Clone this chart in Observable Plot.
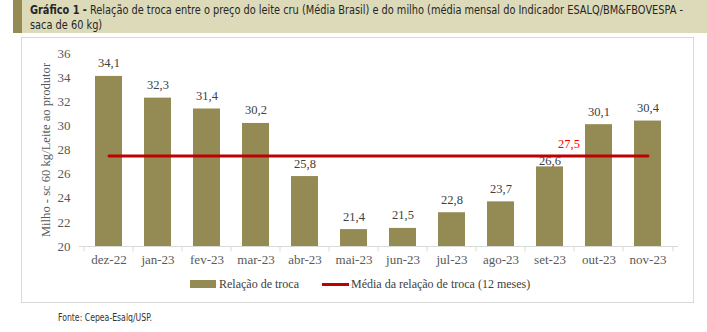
<!DOCTYPE html>
<html><head><meta charset="utf-8">
<script src="https://cdn.jsdelivr.net/npm/d3@7"></script>
<script src="https://cdn.jsdelivr.net/npm/@observablehq/plot@0.6"></script>
<style>
body{margin:0;background:#fff;width:707px;height:332px;position:relative;overflow:hidden;}
#title{position:absolute;left:13px;top:0;width:694px;height:33px;background:#dcdab9;}
#title .bar{position:absolute;left:0;top:0;width:9px;height:33px;background:#948a54;}
.ln{position:absolute;left:17px;white-space:nowrap;font-family:"DejaVu Sans Condensed","DejaVu Sans",sans-serif;font-stretch:condensed;font-size:12.5px;line-height:15px;color:#262626;transform-origin:0 50%;}
#l1{top:2px;}
#l2{top:17px;}
#box{position:absolute;left:21px;top:37px;width:671px;height:264px;border:1px solid #d9d9d9;}
#chart{position:absolute;left:0;top:37px;}
#legend{position:absolute;top:277px;left:0;width:707px;height:16px;font-family:"Liberation Serif",serif;font-size:12px;color:#404040;}
#legend .sw1{position:absolute;left:190px;top:3px;width:26px;height:8px;background:#948a54;}
#legend .t1{position:absolute;left:219px;top:0;}
#legend .sw2{position:absolute;left:322px;top:6px;width:27px;height:3px;background:#c00000;}
#legend .t2{position:absolute;left:351px;top:0;}
#src{position:absolute;left:58px;top:311px;white-space:nowrap;font-family:"DejaVu Sans Condensed","DejaVu Sans",sans-serif;font-stretch:condensed;font-size:10.5px;color:#333;transform-origin:0 50%;}
</style>
</head><body>
<div id="title"><div class="bar"></div>
<div class="ln" id="l1"><b>Gráfico 1 -</b> Relação de troca entre o preço do leite cru (Média Brasil) e do milho (média mensal do Indicador ESALQ/BM&amp;FBOVESPA -</div>
<div class="ln" id="l2">saca de 60 kg)</div></div>
<div id="box"></div>
<div id="chart"></div>
<div id="legend"><div class="sw1"></div><span class="t1">Relação de troca</span><div class="sw2"></div><span class="t2">Média da relação de troca (12 meses)</span></div>
<div id="src">Fonte: Cepea-Esalq/USP.</div>
<script>
const months = ["dez-22","jan-23","fev-23","mar-23","abr-23","mai-23","jun-23","jul-23","ago-23","set-23","out-23","nov-23"];
const ratio = [34.1,32.3,31.4,30.2,25.8,21.4,21.5,22.8,23.7,26.6,30.1,30.4];
const average = 27.5;
const yTicks = [20,22,24,26,28,30,32,34,36];

// fit condensed texts to the reference widths
const l1 = document.getElementById("l1");
const sx = 653 / l1.getBoundingClientRect().width;
l1.style.transform = `scaleX(${sx})`;
document.getElementById("l2").style.transform = `scaleX(${sx})`;
const src = document.getElementById("src");
src.style.transform = `scaleX(${94 / src.getBoundingClientRect().width})`;

const data = months.map((m,i)=>({month:m, value:ratio[i]}));
const fmt = v => v.toFixed(1).replace(".", ",");
const avgLine = [{month:months[0], value:average},{month:months[months.length-1], value:average}];
const W = 707, H = 240, ML = 79, MR = 29;
const step = (W - ML - MR) / months.length;

const chart = Plot.plot({
  width: W, height: H,
  marginLeft: ML, marginRight: MR, marginTop: 16, marginBottom: 31,
  style: {fontFamily: "Liberation Serif, serif", background: "transparent"},
  x: {domain: months, paddingInner: 0.44, paddingOuter: 0.22, label: null},
  y: {domain: [20, 36], ticks: yTicks, label: null},
  marks: [
    Plot.barY(data, {x: "month", y1: 20, y2: "value", fill: "#948a54"}),
    Plot.ruleY([20], {stroke: "#d9d9d9", strokeWidth: 1}),
    Plot.ruleX(months, {x: d => d, dx: -step/2, y1: 20, y2: 19.55, stroke: "#d9d9d9"}),
    Plot.ruleX([months[months.length-1]], {x: d => d, dx: step/2, y1: 20, y2: 19.55, stroke: "#d9d9d9"}),
    Plot.line(avgLine, {x: "month", y: "value", stroke: "#c00000", strokeWidth: 3}),
    Plot.text(data.filter(d => d.month !== "set-23"), {x: "month", y: "value", text: d => fmt(d.value), dy: -13, fontSize: 12.5, fill: "#404040"}),
    Plot.text(data.filter(d => d.month === "set-23"), {x: "month", y: "value", text: d => fmt(d.value), dy: -6, fontSize: 12.5, fill: "#404040"}),
    Plot.text([{month: "set-23", value: average}], {x: "month", y: "value", text: d => fmt(d.value), dx: 19, dy: -12, fontSize: 12.5, fill: "#ff0000"}),
    Plot.axisY({ticks: yTicks, tickSize: 0, tickPadding: 9, fontSize: 13, color: "#595959", label: "Milho - sc 60 kg/Leite ao produtor", labelAnchor: "center", labelArrow: "none", labelOffset: 38}),
    Plot.axisX({tickSize: 0, tickPadding: 8, fontSize: 13, color: "#595959", label: null})
  ]
});
d3.select(chart).selectAll("[aria-label='y-axis label'] text").style("font-size","12.6px");
document.getElementById("chart").appendChild(chart);
</script>
</body></html>
